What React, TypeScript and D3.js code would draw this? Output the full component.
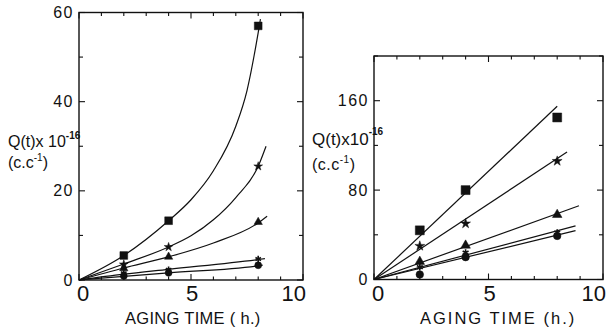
import React from "react";
import * as d3 from "d3";

// ---------- Left panel data (Q(t) x 1e-16, cc^-1) ----------
const leftTimes = [2, 4, 8];
const leftSquares = [5.5, 13.3, 57];
const leftAsterisks = [3.5, 7.4, 25.5];
const leftTriangles = [2.6, 5.2, 13];
const leftStars = [1.5, 2.3, 4.7];
const leftCircles = [0.9, 1.6, 3.3];

// fitted curves
const leftFitSquaresX = [0, 2, 4, 5, 6, 7, 7.5, 8, 8.1];
const leftFitSquaresY = [0, 5.5, 13.3, 18, 24.5, 34.5, 42.5, 55.5, 58.5];
const leftFitAsterisksX = [0, 2, 4, 5, 6, 7, 8, 8.35];
const leftFitAsterisksY = [0, 3.6, 7.4, 9.9, 13.5, 18.5, 25.5, 30];
const leftFitTrianglesX = [0, 2, 4, 6, 8, 8.4];
const leftFitTrianglesY = [0, 2.7, 5.2, 8.3, 12.8, 14.3];
const leftFitStarsX = [0, 2, 4, 8, 8.3];
const leftFitStarsY = [0, 1.3, 2.4, 4.6, 4.8];
const leftFitCirclesX = [0, 2, 4, 8, 8.2];
const leftFitCirclesY = [0, 0.8, 1.6, 3.2, 3.35];

// ---------- Right panel data ----------
const rightTimes = [2, 4, 8];
const rightSquares = [44, 80, 145];
const rightAsterisks = [30, 50, 106];
const rightTriangles = [16, 30.5, 58];
const rightStars = [11, 24, 42];
const rightCircles = [4.5, 20, 39];

// straight fits through origin: end points
const rightLineEndX = [8.0, 8.43, 8.95, 8.8, 8.8];
const rightLineEndY = [155, 114, 66, 48, 43.7];

const leftYTickLabels = [0, 20, 40, 60];
const rightYTickLabels = [0, 80, 160];
const xTickLabels = [0, 5, 10];

const INK = "#111";
const FONT = "'Liberation Sans', Arial, sans-serif";

type Series = { vals: number[]; sym: any; size: number; stroke?: boolean };

function Marker({ x, y, sym, size, stroke }: { x: number; y: number; sym: any; size: number; stroke?: boolean }) {
  const path = d3.symbol(sym, size)() as string;
  return (
    <path
      d={path}
      transform={`translate(${x},${y})`}
      fill={stroke ? "none" : INK}
      stroke={INK}
      strokeWidth={stroke ? 1.6 : 0.5}
    />
  );
}

function Frame({
  x, y, yMajor, yMinor,
}: {
  x: d3.ScaleLinear<number, number>;
  y: d3.ScaleLinear<number, number>;
  yMajor: number[];
  yMinor: number[];
}) {
  const [x0, x1] = x.range();
  const [y0, y1] = y.range();
  const xt = d3.range(0, 11);
  return (
    <g stroke={INK} fill="none">
      <rect x={x0} y={y1} width={x1 - x0} height={y0 - y1} strokeWidth={1.4} />
      {xt.map((t) => {
        const len = t % 5 === 0 ? 6 : 3.5;
        return (
          <g key={"xt" + t} strokeWidth={1.1}>
            <line x1={x(t)} x2={x(t)} y1={y0} y2={y0 - len} />
            <line x1={x(t)} x2={x(t)} y1={y1} y2={y1 + len} />
          </g>
        );
      })}
      {yMajor.map((t) => (
        <g key={"ym" + t} strokeWidth={1.1}>
          <line x1={x0} x2={x0 + 6} y1={y(t)} y2={y(t)} />
          <line x1={x1} x2={x1 - 6} y1={y(t)} y2={y(t)} />
        </g>
      ))}
      {yMinor.map((t) => (
        <g key={"yn" + t} strokeWidth={1.1}>
          <line x1={x0} x2={x0 + 4} y1={y(t)} y2={y(t)} />
          <line x1={x1} x2={x1 - 4} y1={y(t)} y2={y(t)} />
        </g>
      ))}
    </g>
  );
}

function XLabels({ x, y0 }: { x: d3.ScaleLinear<number, number>; y0: number }) {
  return (
    <g fontFamily={FONT} fontSize={22} fill={INK}>
      {xTickLabels.map((t, i) => {
        const anchor = i === 0 ? "start" : i === xTickLabels.length - 1 ? "end" : "middle";
        const dx = i === 0 ? -2 : i === xTickLabels.length - 1 ? 3 : 1;
        return (
          <text key={t} x={x(t) + dx} y={y0 + 21} textAnchor={anchor}>
            {t}
          </text>
        );
      })}
    </g>
  );
}

export default function App() {
  // Left panel scales
  const lx = d3.scaleLinear().domain([0, 10]).range([79, 303]);
  const ly = d3.scaleLinear().domain([0, 60]).range([280, 12.5]);
  // Right panel scales
  const rx = d3.scaleLinear().domain([0, 10]).range([374, 603]);
  const ry = d3.scaleLinear().domain([0, 200]).range([279.5, 56]);

  const curve = d3
    .line<[number, number]>()
    .x((d) => lx(d[0]))
    .y((d) => ly(d[1]))
    .curve(d3.curveMonotoneX);

  const leftFits: [number[], number[]][] = [
    [leftFitSquaresX, leftFitSquaresY],
    [leftFitAsterisksX, leftFitAsterisksY],
    [leftFitTrianglesX, leftFitTrianglesY],
    [leftFitStarsX, leftFitStarsY],
    [leftFitCirclesX, leftFitCirclesY],
  ];

  const leftSeries: Series[] = [
    { vals: leftSquares, sym: d3.symbolSquare, size: 60 },
    { vals: leftAsterisks, sym: d3.symbolStar, size: 24 },
    { vals: leftTriangles, sym: d3.symbolTriangle, size: 30 },
    { vals: leftStars, sym: d3.symbolAsterisk, size: 28, stroke: true },
    { vals: leftCircles, sym: d3.symbolCircle, size: 38 },
  ];
  const rightSeries: Series[] = [
    { vals: rightSquares, sym: d3.symbolSquare, size: 80 },
    { vals: rightAsterisks, sym: d3.symbolStar, size: 30 },
    { vals: rightTriangles, sym: d3.symbolTriangle, size: 40 },
    { vals: rightStars, sym: d3.symbolAsterisk, size: 32, stroke: true },
    { vals: rightCircles, sym: d3.symbolCircle, size: 45 },
  ];

  return (
    <svg width={607} height={330} style={{ position: "absolute", left: 0, top: 0, background: "#fff" }}>
      <rect width={607} height={330} fill="#fff" />

      {/* ---------------- LEFT PANEL ---------------- */}
      <Frame x={lx} y={ly} yMajor={[0, 20, 40, 60]} yMinor={[10, 30, 50]} />
      <g fill="none" stroke={INK} strokeWidth={1.2}>
        {leftFits.map(([xs, ys], i) => (
          <path key={i} d={curve(xs.map((v, j) => [v, ys[j]] as [number, number])) as string} />
        ))}
      </g>
      {leftSeries.map((s, i) =>
        s.vals.map((v, j) => (
          <Marker key={`l${i}-${j}`} x={lx(leftTimes[j])} y={ly(v)} sym={s.sym} size={s.size} stroke={s.stroke} />
        ))
      )}
      <g fontFamily={FONT} fontSize={16} fill={INK} letterSpacing={1.5}>
        {leftYTickLabels.map((t) => (
          <text key={t} x={lx(0) - 5} y={ly(t)} textAnchor="end" dominantBaseline="central">
            {t}
          </text>
        ))}
      </g>
      <XLabels x={lx} y0={ly(0)} />
      <text x={8} y={147} fontFamily={FONT} fontSize={16} fill={INK}>
        Q(t)x 10
        <tspan dy={-8} fontSize={10} fontWeight="bold">-16</tspan>
      </text>
      <text x={8} y={168} fontFamily={FONT} fontSize={16} fill={INK}>
        (c.c
        <tspan dy={-7} fontSize={10}>-1</tspan>
        <tspan dy={7}>)</tspan>
      </text>
      <text x={125} y={324} fontFamily={FONT} fontSize={16.5} fill={INK} letterSpacing={0.3}>
        AGING TIME ( h.)
      </text>

      {/* ---------------- RIGHT PANEL ---------------- */}
      <Frame x={rx} y={ry} yMajor={[0, 80, 160]} yMinor={[40, 120, 200]} />
      <g fill="none" stroke={INK} strokeWidth={1.2}>
        {rightLineEndX.map((ex, i) => (
          <line key={i} x1={rx(0)} y1={ry(0)} x2={rx(ex)} y2={ry(rightLineEndY[i])} />
        ))}
      </g>
      {rightSeries.map((s, i) =>
        s.vals.map((v, j) => (
          <Marker key={`r${i}-${j}`} x={rx(rightTimes[j])} y={ry(v)} sym={s.sym} size={s.size} stroke={s.stroke} />
        ))
      )}
      <g fontFamily={FONT} fontSize={16} fill={INK} letterSpacing={1.5}>
        {rightYTickLabels.map((t) => (
          <text key={t} x={rx(0) - 5} y={ry(t)} textAnchor="end" dominantBaseline="central">
            {t}
          </text>
        ))}
      </g>
      <XLabels x={rx} y0={ry(0)} />
      <text x={312} y={145} fontFamily={FONT} fontSize={17} fill={INK}>
        Q(t)x10
        <tspan dy={-10} fontSize={10} fontWeight="bold">-16</tspan>
      </text>
      <text x={312} y={170} fontFamily={FONT} fontSize={16} fill={INK} letterSpacing={0.5}>
        (c.c
        <tspan dy={-7} fontSize={10}>-1</tspan>
        <tspan dy={7}>)</tspan>
      </text>
      <text x={420} y={324} fontFamily={FONT} fontSize={16.5} fill={INK} letterSpacing={2}>
        AGING TIME (h.)
      </text>
    </svg>
  );
}
